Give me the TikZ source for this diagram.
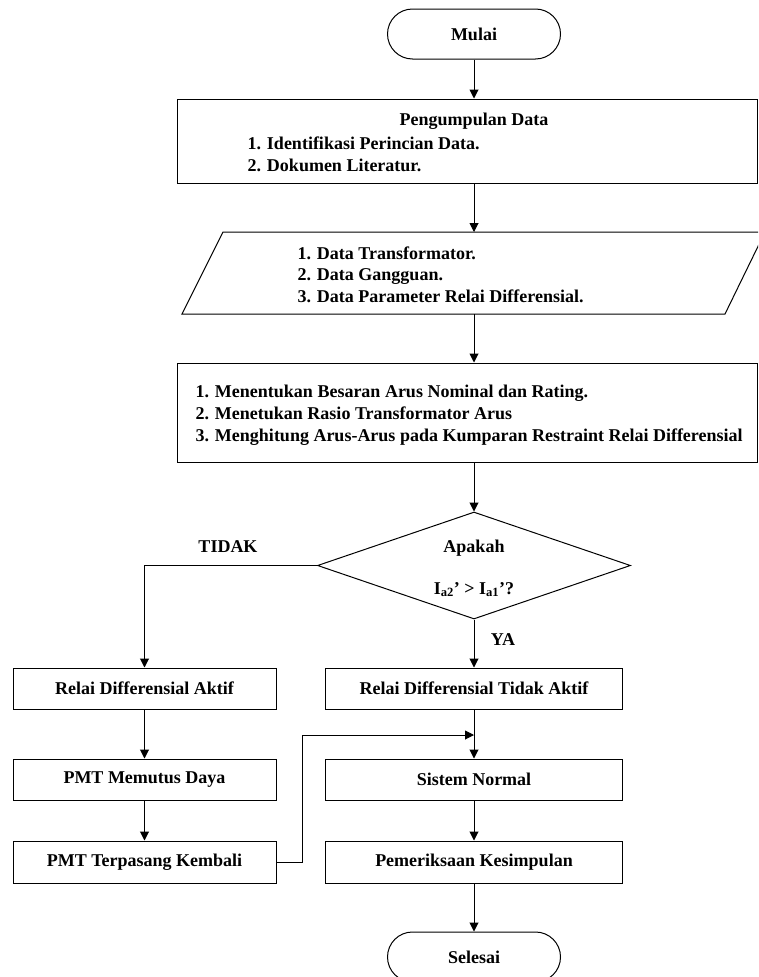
\documentclass[tikz,border=0pt]{standalone}
\usepackage{fontspec}
\setmainfont{Liberation Serif}
\usetikzlibrary{shapes.geometric,arrows.meta}
\begin{document}
\begin{tikzpicture}[x=1pt,y=-1pt,line width=1pt,
  font=\fontsize{18}{21.5}\selectfont\bfseries,
  term/.style={draw, rounded corners=25pt, minimum width=173pt, minimum height=50pt, inner sep=0pt},
  procbox/.style={draw, rectangle, inner sep=0pt},
  arr/.style={-{Triangle[length=9pt,width=9pt]}},
  lbl/.style={anchor=base west, inner sep=0pt},
  lblc/.style={anchor=base, inner sep=0pt}]
\useasboundingbox (0,0) rectangle (758,977);
\clip (0,0) rectangle (758,977);

% start
\node[term] (start) at (474,34) {Mulai};

% data collection box
\node[procbox, minimum width=580pt, minimum height=84pt] (b1) at (467,141) {};
\node[lblc] (b1t) at (474,125) {Pengumpulan Data};
\node[lbl] (b1a) at (247,149) {1. Identifikasi Perincian Data.};
\node[lbl] (b1b) at (247,171) {2. Dokumen Literatur.};

% input parallelogram
\draw (223,232) -- (765,232) -- (725,314) -- (182,314) -- cycle;
\coordinate (parn) at (474,232);
\coordinate (pars) at (474,314);
\node[lbl] (pa) at (297,259) {1. Data Transformator.};
\node[lbl] (pb) at (297,280) {2. Data Gangguan.};
\node[lbl] (pc) at (297,302) {3. Data Parameter Relai Differensial.};

% process box
\node[procbox, minimum width=580pt, minimum height=99pt] (b2) at (467,412.5) {};
\node[lbl] (b2a) at (195,397) {1. Menentukan Besaran Arus Nominal dan Rating.};
\node[lbl] (b2b) at (195,419) {2. Menetukan Rasio Transformator Arus};
\node[lbl] (b2c) at (195,441) {3. Menghitung Arus-Arus pada Kumparan Restraint Relai Differensial};

% decision
\node[diamond, draw, minimum width=313pt, minimum height=107pt, inner sep=0pt] (dec) at (474,565.5) {};
\node[lblc] (dq1) at (474,552) {Apakah};
\node[lblc] (dq2) at (474,594) {I\textsubscript{a2}’ > I\textsubscript{a1}’?};
\node[lblc] (tidak) at (228,552) {TIDAK};
\node[lblc] (ya) at (503,645) {YA};

% left column
\node[procbox, minimum width=263pt, minimum height=41pt] (l1) at (144.5,688.5) {Relai Differensial Aktif};
\node[procbox, minimum width=263pt, minimum height=41pt] (l2) at (144.5,779.5) {PMT Memutus Daya};
\node[procbox, minimum width=263pt, minimum height=42pt] (l3) at (144.5,862) {PMT Terpasang Kembali};

% right column
\node[procbox, minimum width=297pt, minimum height=41pt] (r1) at (474,688.5) {Relai Differensial Tidak Aktif};
\node[procbox, minimum width=297pt, minimum height=41pt] (r2) at (474,779.5) {Sistem Normal};
\node[procbox, minimum width=297pt, minimum height=42pt] (r3) at (474,862) {Pemeriksaan Kesimpulan};

% end
\node[term] (finish) at (474,957) {Selesai};

% connectors
\draw[arr] (start.south) -- (start.south |- b1.north);
\draw[arr] (start.south |- b1.south) -- (parn);
\draw[arr] (pars) -- (pars |- b2.north);
\draw[arr] (pars |- b2.south) -- (dec.north);
\draw[arr] (dec.west) -| (l1.north);
\draw[arr] (dec.south) -- (r1.north);
\draw[arr] (l1) -- (l2);
\draw[arr] (l2) -- (l3);
\draw[arr] (r1) -- (r2);
\draw[arr] (r2) -- (r3);
\draw[arr] (r3) -- (finish);
\coordinate (join) at (474,735);
\draw[arr] (l3.east) -- ++(26,0) |- (join);
\end{tikzpicture}
\end{document}
